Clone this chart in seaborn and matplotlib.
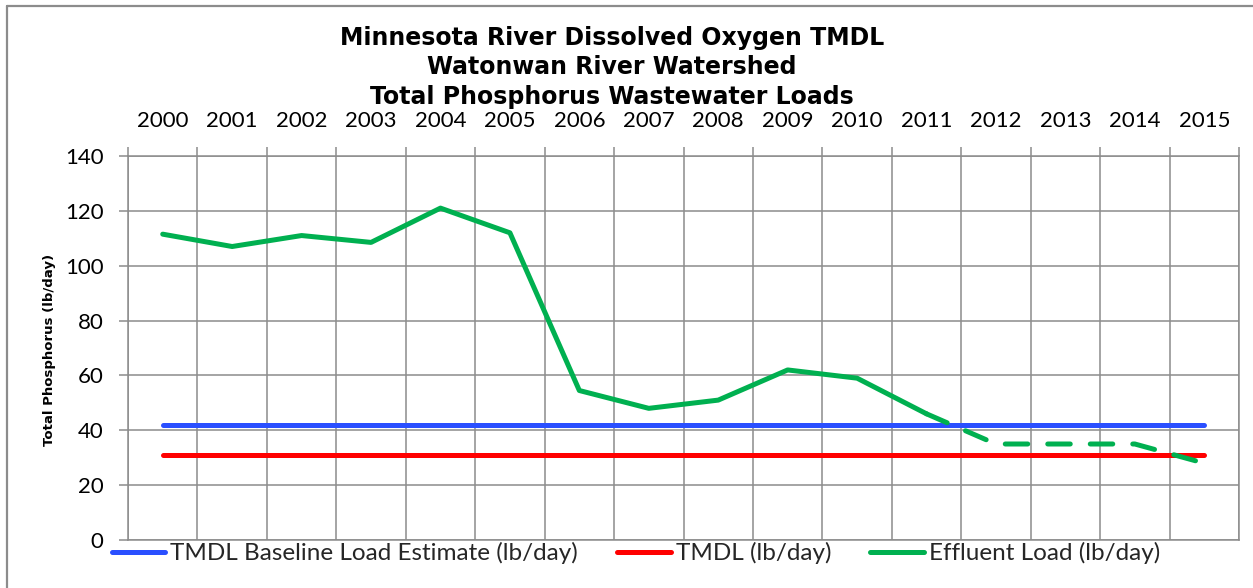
import matplotlib
matplotlib.use("Agg")
import matplotlib.pyplot as plt
import seaborn as sns
import numpy as np
import pandas as pd
from matplotlib.lines import Line2D

# ---- data ----
years = list(range(2000, 2016))
baseline = [42] * 16
tmdl = [31] * 16
effluent_years = list(range(2000, 2012))
effluent = [111.5, 107, 111, 108.5, 121, 112, 54.5, 48, 51, 62, 59, 46]
projected_years = [2011, 2012, 2013, 2014, 2015]
projected = [46, 35, 35, 35, 28]
y_ticks = [0, 20, 40, 60, 80, 100, 120, 140]
title_lines = ["Minnesota River Dissolved Oxygen TMDL",
               "Watonwan River Watershed",
               "Total Phosphorus Wastewater Loads"]
legend_labels = ["TMDL Baseline Load Estimate (lb/day)", "TMDL (lb/day)",
                 "Effluent Load (lb/day)"]

BLUE = "#2A4FFF"
RED = "#FF0000"
GREEN = "#00B050"
GRID = "#8C8C8C"

sns.set_theme(style="white")
plt.rcParams["font.family"] = ["Lato", "DejaVu Sans"]

fig = plt.figure(figsize=(12.53, 5.88), dpi=100)
W, H = 1253, 588
ax = fig.add_axes([128 / W, 1 - 540 / H, (1239 - 128) / W, (540 - 156) / H])

lw = 3.6
sns.lineplot(x=years, y=baseline, ax=ax, color=BLUE, lw=lw,
             solid_capstyle="round", label=legend_labels[0], legend=False)
sns.lineplot(x=years, y=tmdl, ax=ax, color=RED, lw=lw,
             solid_capstyle="round", label=legend_labels[1], legend=False)
sns.lineplot(x=effluent_years, y=effluent, ax=ax, color=GREEN, lw=lw,
             solid_capstyle="round", label=legend_labels[2], legend=False)
sns.lineplot(x=projected_years, y=projected, ax=ax, color=GREEN, lw=lw,
             dash_capstyle="round", legend=False)
ax.lines[-1].set_dashes([4.5, 4.0])

ax.set_xlim(1999.5, 2015.5)
ax.set_ylim(0, 140)
ax.set_yticks(y_ticks)
ax.set_xticks(years)
ax.set_xticks(np.arange(1999.5, 2016, 1.0), minor=True)
ax.xaxis.tick_top()
ax.tick_params(axis="x", which="major", length=0, pad=18, labelsize=16,
               labelcolor="black")
ax.tick_params(axis="x", which="minor", length=6.5, width=1.1, color=GRID,
               direction="out", top=True, bottom=False)
ax.tick_params(axis="y", which="major", length=6.5, width=1.1, color=GRID,
               direction="out", pad=11, labelsize=16, labelcolor="black", left=True)
ax.set_xlabel("")
ax.set_ylabel("")
ax.grid(False)
ax.xaxis.grid(True, which="minor", color=GRID, lw=1.1)
ax.yaxis.grid(True, which="major", color=GRID, lw=1.1)
for s in ax.spines.values():
    s.set_color(GRID)
    s.set_linewidth(1.1)
ax.set_axisbelow(True)

# title
for i, t in enumerate(title_lines):
    fig.text(612 / W, 1 - (38 + 29.5 * i) / H, t, ha="center", va="center",
             fontsize=17, fontweight="heavy", family=["DejaVu Sans"], color="black")

# y label
fig.text(50 / W, 1 - 350 / H, "Total Phosphorus (lb/day)", rotation=90,
         ha="center", va="center", fontsize=9.5, fontweight="bold",
         family=["DejaVu Sans"], color="black")

# legend
handles = [Line2D([0], [0], color=c, lw=lw, solid_capstyle="round")
           for c in (BLUE, RED, GREEN)]
fig.legend(handles, legend_labels, loc="center", ncol=3,
           bbox_to_anchor=(636 / W, 1 - 553 / H), frameon=False,
           fontsize=17.5, handlelength=2.2, handletextpad=0.22,
           columnspacing=1.6, borderaxespad=0, borderpad=0)

# outer border (top and left visible)
fig.add_artist(Line2D([7 / W, 1], [1 - 6 / H, 1 - 6 / H], color=GRID, lw=1.6,
                      transform=fig.transFigure))
fig.add_artist(Line2D([7 / W, 7 / W], [0, 1 - 6 / H], color=GRID, lw=1.6,
                      transform=fig.transFigure))

fig.savefig("out.png", dpi=100, facecolor="white")
